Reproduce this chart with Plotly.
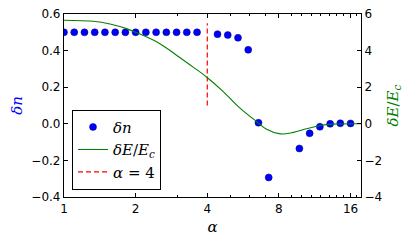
import plotly.graph_objects as go

# ---- data ----
alpha_dots = [1.00, 1.104, 1.219, 1.346, 1.486, 1.641, 1.811, 2.00, 2.208, 2.438,
              2.692, 2.972, 3.281, 3.623, 4.00, 4.416, 4.876, 5.384, 5.944, 6.563,
              7.246, 8.00, 8.833, 9.752, 10.77, 11.89, 13.13, 14.49, 16.00]
delta_n = [0.50, 0.50, 0.50, 0.50, 0.50, 0.50, 0.50, 0.50, 0.50, 0.50,
           0.50, 0.50, 0.50, 0.50, None, 0.49, 0.485, 0.47, 0.404, 0.006,
           -0.293, None, None, -0.135, -0.052, -0.016, 0.0, 0.003, 0.002]

alpha_line = [1.00, 1.33, 1.56, 1.83, 2.02, 2.53, 2.97, 3.49, 3.97, 4.67,
              5.49, 6.45, 7.10, 8.10, 9.20, 10.45, 11.93, 13.57, 17.7]
delta_E = [5.66, 5.60, 5.45, 5.20, 4.98, 4.38, 3.75, 3.10, 2.56, 1.76,
           0.86, 0.12, -0.30, -0.55, -0.47, -0.27, -0.09, -0.02, 0.0]

alpha_mark = 4
mark_span = [0.10, 0.55]

x_major = [1, 2, 4, 8, 16]
x_minor = [3, 5, 6, 7, 9, 10, 11, 12, 13, 14, 15, 17]
yl_ticks = [-0.4, -0.2, 0.0, 0.2, 0.4, 0.6]
yr_ticks = [-4, -2, 0, 2, 4, 6]

SANS = "DejaVu Sans"
SERIF = "DejaVu Serif"

fig = go.Figure()
fig.add_trace(go.Scatter(
    x=alpha_dots, y=delta_n, mode="markers", name="<i>δn</i>",
    marker=dict(color="#0000ff", size=7, line=dict(color="#000080", width=0.5)),
    yaxis="y"))
fig.add_trace(go.Scatter(
    x=alpha_line, y=delta_E, mode="lines", name="<i>δE</i>/<i>E</i><sub><i>c</i></sub>",
    line=dict(color="#008000", width=1.1, shape="spline"), yaxis="y2"))
fig.add_trace(go.Scatter(
    x=[alpha_mark, alpha_mark], y=mark_span, mode="lines", name="<i>α</i> = 4",
    line=dict(color="#ff0000", width=1.2, dash="5px,3px"), yaxis="y"))

# page body has an 8px margin, so the figure is offset by 8px
fig.update_layout(
    width=399, height=228,
    margin=dict(l=56, r=46, t=6, b=39),
    paper_bgcolor="white", plot_bgcolor="white",
    font=dict(family=SANS, size=12, color="black"),
    showlegend=True,
    legend=dict(x=0.027, y=0.04, xanchor="left", yanchor="bottom",
                bgcolor="white", bordercolor="black", borderwidth=1,
                font=dict(family=SERIF, size=15), tracegroupgap=0,
                itemwidth=30),
    xaxis=dict(type="log", range=[0, 1.248], automargin=False, ticklabeloverflow="allow",
               tickvals=x_major, ticktext=[str(v) for v in x_major],
               ticks="inside", ticklen=4, tickcolor="black",
               minor=dict(tickvals=x_minor, ticks="inside", ticklen=2, tickcolor="black"),
               showline=True, linecolor="black", linewidth=1.2, mirror="ticks",
               showgrid=False, zeroline=False,
               title=dict(text="<i>α</i>", font=dict(family=SERIF, size=15), standoff=6)),
    yaxis=dict(range=[-0.4, 0.6], tickvals=yl_ticks, automargin=False,
               ticklabeloverflow="allow",
               ticktext=[f"{v:.1f}".replace("-", "−") for v in yl_ticks],
               ticks="inside", ticklen=4, tickcolor="black",
               showline=True, linecolor="black", linewidth=1.2,
               showgrid=False, zeroline=False,
               title=dict(text="<i>δn</i>", font=dict(family=SERIF, size=15, color="#0000ff"),
                          standoff=6)),
    yaxis2=dict(range=[-4, 6], tickvals=yr_ticks, automargin=False,
                ticklabeloverflow="allow",
                ticktext=[str(v).replace("-", "−") for v in yr_ticks],
                overlaying="y", side="right",
                ticks="inside", ticklen=4, tickcolor="black",
                showline=True, linecolor="black", linewidth=1.2,
                showgrid=False, zeroline=False,
                title=dict(text="<i>δE</i>/<i>E</i><sub><i>c</i></sub>",
                           font=dict(family=SERIF, size=15, color="#008000"), standoff=6)),
)

fig.write_html("out.html")
